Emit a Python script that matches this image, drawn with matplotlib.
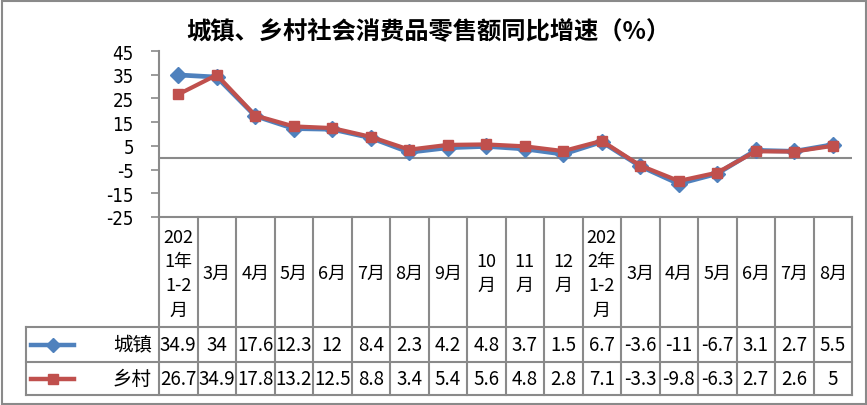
import matplotlib
matplotlib.use("Agg")
import matplotlib.pyplot as plt
import matplotlib.transforms as mtransforms
from matplotlib.lines import Line2D
from matplotlib.patches import Rectangle

plt.rcParams['font.family'] = ['Noto Sans CJK SC', 'DejaVu Sans']

title = "城镇、乡村社会消费品零售额同比增速（%）"
categories = ["202\n1年\n1-2\n月", "3月", "4月", "5月", "6月", "7月", "8月", "9月",
              "10\n月", "11\n月", "12\n月", "202\n2年\n1-2\n月", "3月", "4月", "5月",
              "6月", "7月", "8月"]
series_names = ["城镇", "乡村"]
urban = [34.9, 34, 17.6, 12.3, 12, 8.4, 2.3, 4.2, 4.8, 3.7, 1.5, 6.7, -3.6, -11, -6.7, 3.1, 2.7, 5.5]
rural = [26.7, 34.9, 17.8, 13.2, 12.5, 8.8, 3.4, 5.4, 5.6, 4.8, 2.8, 7.1, -3.3, -9.8, -6.3, 2.7, 2.6, 5]
yticks = [-25, -15, -5, 5, 15, 25, 35, 45]

W, H = 867, 406
fig = plt.figure(figsize=(W / 100, H / 100), dpi=100)

def fx(x):
    return x / W

def fy(y):
    return 1 - y / H

grid_c = "#8a8a8a"
blue = "#4F81BD"
red = "#C0504D"

# outer border
fig.patches.append(Rectangle((fx(1.5), fy(404.5)), fx(864), 402.5 / H, transform=fig.transFigure,
                             fill=False, edgecolor=grid_c, linewidth=1.5))

ax_l, ax_r, ax_t, ax_b = 159, 852, 52, 218
ax = fig.add_axes([fx(ax_l), fy(ax_b), (ax_r - ax_l) / W, (ax_b - ax_t) / H])
ax.set_xlim(-0.5, len(categories) - 0.5)
ax.set_ylim(-25, 45)
ax.set_yticks(yticks)
ax.set_yticklabels([str(v) for v in yticks], fontsize=13.5, fontfamily='DejaVu Sans',
                   fontstretch='condensed')
ax.set_xticks([])
for s in ["top", "right"]:
    ax.spines[s].set_visible(False)
for s in ["left", "bottom"]:
    ax.spines[s].set_color(grid_c)
    ax.spines[s].set_linewidth(1.5)
ax.tick_params(axis='y', length=6, width=1.2, color=grid_c, pad=12)
ax.patch.set_alpha(0)
ax.axhline(0, color=grid_c, linewidth=1.5, zorder=1)

x = list(range(len(categories)))
ax.plot(x, urban, color=blue, linewidth=3.4, marker='D', markersize=8.5, zorder=3, clip_on=False)
ax.plot(x, rural, color=red, linewidth=3.0, marker='s', markersize=7.5, zorder=4, clip_on=False)

fig.text(fx(428), fy(32), title, fontsize=17.5, fontweight='bold', ha='center', va='center')

# data table
tdx = mtransforms.blended_transform_factory(ax.transData, fig.transFigure)
tax = mtransforms.blended_transform_factory(ax.transAxes, fig.transFigure)
row_top, row1, row2, row_bot = 218, 328, 363, 396
legend_left = 26
lw = 1.5

for i in range(len(categories) + 1):
    xb = i - 0.5
    fig.add_artist(Line2D([xb, xb], [fy(row_top), fy(row_bot)], transform=tdx,
                          color=grid_c, linewidth=lw))
left_ax = (legend_left - ax_l) / (ax_r - ax_l)
for yy in (row1, row2, row_bot):
    fig.add_artist(Line2D([left_ax, 1], [fy(yy), fy(yy)], transform=tax,
                          color=grid_c, linewidth=lw))
fig.add_artist(Line2D([fx(legend_left), fx(legend_left)], [fy(row1), fy(row_bot)],
                      transform=fig.transFigure, color=grid_c, linewidth=lw))

for i, lab in enumerate(categories):
    fig.text(i, fy((row_top + row1) / 2 + 1), lab, transform=tdx, ha='center', va='center',
             fontsize=13, linespacing=1.45)

rows = [(urban, blue, 'D', 7.5), (rural, red, 's', 7.5)]
for r, (vals, col, mk, ms) in enumerate(rows):
    yc = fy((row1 + row2) / 2) if r == 0 else fy((row2 + row_bot) / 2)
    for i, v in enumerate(vals):
        fig.text(i, yc, f"{v:g}", transform=tdx, ha='center', va='center', fontsize=13.5)
    fig.add_artist(Line2D([fx(31), fx(74)], [yc, yc], transform=fig.transFigure,
                          color=col, linewidth=3.2))
    fig.add_artist(Line2D([fx(52.5)], [yc], transform=fig.transFigure, color=col,
                          marker=mk, markersize=ms, linestyle='none'))
    fig.text(fx(152), yc, series_names[r], ha='right', va='center', fontsize=14)

fig.savefig("out.png", dpi=100)
